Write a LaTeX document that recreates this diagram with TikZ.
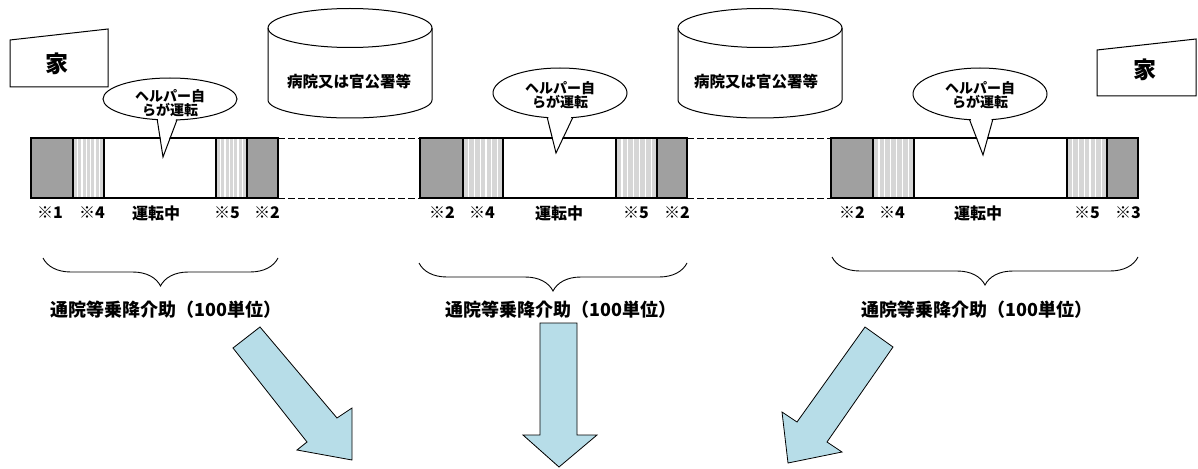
\documentclass[tikz,border=0pt]{standalone}
\usepackage{fontspec}
\newfontfamily\jp{Noto Sans CJK JP}
\usetikzlibrary{decorations.pathreplacing,calc}
\definecolor{arrowblue}{RGB}{183,221,232}
\definecolor{darkseg}{RGB}{160,160,160}
\definecolor{lightseg}{RGB}{214,214,214}
\newcommand\stripeseg[2]{%
  \fill[lightseg] (#1,138) rectangle (#2,198);
  \foreach \s in {1,...,6}{\draw[white,line width=1.3pt] ({#1+(#2-#1)*\s/7},139) -- ({#1+(#2-#1)*\s/7},197);}
}
\newcommand\darksegm[2]{\fill[darkseg] (#1,138) rectangle (#2,198);}
\newcommand\jpsize[1]{\jp\bfseries\fontsize{#1}{#1}\selectfont}
\begin{document}
\begin{tikzpicture}[x=1pt,y=-1pt,
  outl/.style={draw=black,line width=1.1pt},
  thinl/.style={draw=black,line width=1pt},
  dashl/.style={draw=black,line width=0.9pt,dash pattern=on 7pt off 3pt},
  bigarrow/.style={fill=arrowblue,draw=black,line width=0.8pt},
  homelbl/.style={font=\jpsize{23}},
  hosplbl/.style={font=\jpsize{15.5}},
  bublbl/.style={font=\jpsize{14},align=center,inner sep=0pt},
  seglbl/.style={font=\jpsize{16},inner sep=0pt},
  sumlbl/.style={font=\jpsize{18},inner sep=0pt},
  bracel/.style={draw=black,line width=0.9pt,decorate,decoration={brace,mirror,amplitude=28pt,aspect=0.5}}
]
\useasboundingbox (0,0) rectangle (1198,468);

% homes
\draw[thinl] (10,40) -- (108,29) -- (108,87) -- (10,87) -- cycle;
\node[homelbl] (home1) at (57,64) {家};
\draw[thinl] (1097,50) -- (1196,39) -- (1196,96) -- (1097,96) -- cycle;
\node[homelbl] (home2) at (1145,70) {家};

% hospitals (cylinders)
\foreach \cx in {350,760}{
  \draw[thinl,fill=white] (\cx-82,28) -- (\cx-82,100) arc[start angle=180,end angle=0,x radius=82,y radius=18] -- (\cx+82,28);
  \draw[thinl] (\cx-82,28) arc[start angle=180,end angle=360,x radius=82,y radius=19.5];
  \draw[thinl] (\cx-82,28) arc[start angle=180,end angle=0,x radius=82,y radius=19.5];
}
\node[hosplbl] (hosp1) at (349,82) {病院又は官公署等};
\node[hosplbl] (hosp2) at (756,82) {病院又は官公署等};

% bars
\darksegm{31}{73}\stripeseg{73}{104}\stripeseg{216}{247}\darksegm{247}{278}
\draw[outl] (31,138) rectangle (278,198);
\foreach \x in {73,104,216,247}{\draw[outl] (\x,138) -- (\x,198);}
\darksegm{420}{463}\stripeseg{463}{503}\stripeseg{616}{657}\darksegm{657}{687}
\draw[outl] (420,138) rectangle (687,198);
\foreach \x in {463,503,616,657}{\draw[outl] (\x,138) -- (\x,198);}
\darksegm{831}{873}\stripeseg{873}{914}\stripeseg{1067}{1107}\darksegm{1107}{1138}
\draw[outl] (831,138) rectangle (1138,198);
\foreach \x in {873,914,1067,1107}{\draw[outl] (\x,138) -- (\x,198);}

% dashed links
\draw[dashl] (278,138) -- (420,138);
\draw[dashl] (278,198) -- (420,198);
\draw[dashl] (687,138) -- (831,138);
\draw[dashl] (687,198) -- (831,198);

% bubbles
\foreach \cx/\cy/\ry/\aa/\ab/\tx/\ty in {170/99/21/101/84/163/157, 560/93/25/101/79/556/153, 980/94/26/99/79/983/155}{
  \filldraw[thinl,fill=white] (\cx,\cy) ellipse[x radius=67,y radius=\ry];
  \fill[white] ($(\cx,\cy)+(\aa:64 and \ry-3)$) -- (\tx,\ty) -- ($(\cx,\cy)+(\ab:64 and \ry-3)$) -- cycle;
  \draw[thinl] ($(\cx,\cy)+(\aa:67 and \ry)$) -- (\tx,\ty) -- ($(\cx,\cy)+(\ab:67 and \ry)$);
}
\node[bublbl] (bub1) at (170,103) {ヘルパー自\\らが運転};
\node[bublbl] (bub2) at (560,95) {ヘルパー自\\らが運転};
\node[bublbl] (bub3) at (980,95) {ヘルパー自\\らが運転};

% segment labels
\node[seglbl] (l1a) at (50,213) {※1};
\node[seglbl] (l1b) at (92,213) {※4};
\node[seglbl] (l1c) at (156,213) {運転中};
\node[seglbl] (l1d) at (227,213) {※5};
\node[seglbl] (l1e) at (267,213) {※2};
\node[seglbl] (l2a) at (442,213) {※2};
\node[seglbl] (l2b) at (482,213) {※4};
\node[seglbl] (l2c) at (559,213) {運転中};
\node[seglbl] (l2d) at (636,213) {※5};
\node[seglbl] (l2e) at (677,213) {※2};
\node[seglbl] (l3a) at (852,213) {※2};
\node[seglbl] (l3b) at (892,213) {※4};
\node[seglbl] (l3c) at (978,213) {運転中};
\node[seglbl] (l3d) at (1087,213) {※5};
\node[seglbl] (l3e) at (1128,213) {※3};

% braces
\draw[bracel] (43,258) -- (278,258);
\draw[bracel] (419,263) -- (687,263);
\draw[bracel] (832,257) -- (1138,257);

% sum labels
\node[sumlbl] (s1) at (166,310) {通院等乗降介助（100単位）};
\node[sumlbl] (s2) at (561,310) {通院等乗降介助（100単位）};
\node[sumlbl] (s3) at (977,310) {通院等乗降介助（100単位）};

% big arrows
\draw[bigarrow] (233,348) -- (260,327) -- (337,418) -- (352,408) -- (352,460) -- (297,450) -- (307,442) -- cycle;
\draw[bigarrow] (540,323) -- (577,323) -- (577,435) -- (597,435) -- (559,467) -- (523,435) -- (540,435) -- cycle;
\draw[bigarrow] (865,327) -- (893,347) -- (827,442) -- (842,452) -- (788,463) -- (782,412) -- (797,422) -- cycle;
\end{tikzpicture}
\end{document}
